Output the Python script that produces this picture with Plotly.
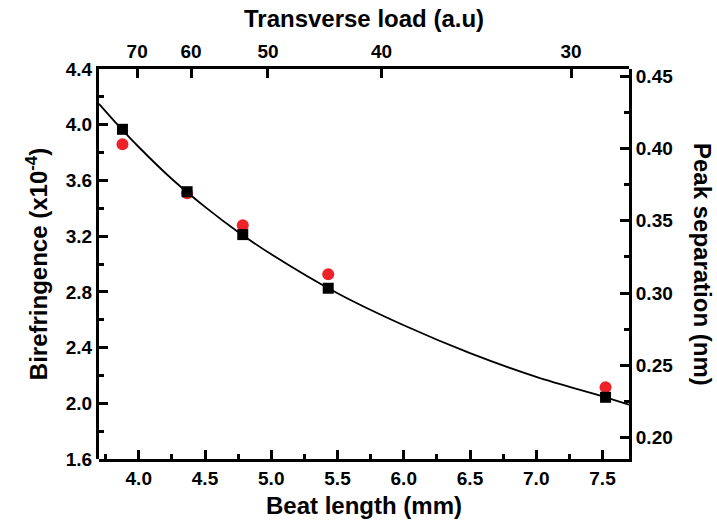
import plotly.graph_objects as go

# ---- data ----
beat_length = [3.877, 4.365, 4.785, 5.430, 7.523]          # mm
birefringence = [3.967, 3.519, 3.211, 2.826, 2.043]        # x1e-4
peak_separation = [0.403, 0.369, 0.347, 0.313, 0.235]      # nm

fit_beat = [3.70, 3.85, 4.00, 4.25, 4.50, 4.75, 5.00, 5.50, 6.00, 6.50, 7.00, 7.50, 7.70]
fit_biref = [4.15, 3.99, 3.84, 3.61, 3.41, 3.23, 3.07, 2.79, 2.56, 2.36, 2.19, 2.05, 1.99]

load_labels = ["70", "60", "50", "40", "30"]
load_tick_pos = [3.988, 4.395, 4.975, 5.833, 7.263]        # beat length where each load tick sits

FONT = "Liberation Sans"

fig = go.Figure()

# peak separation (right axis) - lower subplot layer
fig.add_trace(go.Scatter(
    x=beat_length, y=peak_separation, mode="markers",
    marker=dict(symbol="circle", size=12, color="#ee2229"),
    xaxis="x", yaxis="y", showlegend=False, hoverinfo="skip"))
# birefringence + fit (left axis) - upper subplot layer
fig.add_trace(go.Scatter(
    x=fit_beat, y=fit_biref, mode="lines",
    line=dict(color="black", width=1.8, shape="spline", smoothing=1.0),
    xaxis="x2", yaxis="y2", showlegend=False, hoverinfo="skip"))
fig.add_trace(go.Scatter(
    x=beat_length, y=birefringence, mode="markers",
    marker=dict(symbol="square", size=11, color="black"),
    xaxis="x2", yaxis="y2", showlegend=False, hoverinfo="skip"))

TICKFONT = dict(family=FONT, size=19, color="black", weight="bold")
TITLEFONT = dict(family=FONT, size=24, color="black", weight="bold")
TK = dict(ticks="inside", ticklen=9, tickwidth=2.5, tickcolor="black")
MTK = dict(ticks="inside", ticklen=5, tickwidth=2.5, tickcolor="black")
LINE = dict(showgrid=False, zeroline=False, showline=True, linecolor="black", linewidth=3)

fig.update_layout(
    template="none",
    width=717, height=527,
    margin=dict(l=99, r=88, t=69, b=68),
    paper_bgcolor="white", plot_bgcolor="rgba(0,0,0,0)",
    font=dict(family=FONT, color="black"),
)

# two subplots sharing the same area (no 'overlaying')
fig.update_layout(xaxis=dict(
    domain=[0, 1], range=[3.7, 7.7], side="bottom", anchor="y",
    tickmode="linear", tick0=4.0, dtick=0.5, tickformat=".1f",
    **LINE, **TK, tickfont=TICKFONT,
    minor=dict(**MTK, dtick=0.25, tick0=3.75),
    title=dict(text="Beat length (mm)", font=TITLEFONT, standoff=10),
))
fig.update_layout(yaxis=dict(
    domain=[0, 1], range=[0.1853, 0.455], side="right", anchor="x",
    tickmode="linear", tick0=0.20, dtick=0.05, tickformat=".2f",
    **LINE, **TK, tickfont=TICKFONT,
    minor=dict(**MTK, dtick=0.025, tick0=0.2),
))
fig.update_layout(xaxis2=dict(
    domain=[0, 1], range=[3.7, 7.7], side="top", anchor="y2",
    tickmode="array", tickvals=load_tick_pos, ticktext=load_labels,
    **LINE, **TK, tickfont=TICKFONT,
    title=dict(text="Transverse load (a.u)", font=TITLEFONT, standoff=8),
))
fig.update_layout(yaxis2=dict(
    domain=[0, 1], range=[1.6, 4.4], side="left", anchor="x2",
    tickmode="linear", tick0=1.6, dtick=0.4, tickformat=".1f",
    **LINE, **TK, tickfont=TICKFONT,
    minor=dict(**MTK, dtick=0.2, tick0=1.8),
    title=dict(text="Birefringence (x10<sup>-4</sup>)", font=TITLEFONT, standoff=12),
))
fig.add_annotation(
    text="Peak separation (nm)", textangle=90, xref="paper", yref="paper",
    x=1.0, xshift=74, y=0.5, showarrow=False, xanchor="center", yanchor="middle",
    font=TITLEFONT)

fig.write_html("out.html")
